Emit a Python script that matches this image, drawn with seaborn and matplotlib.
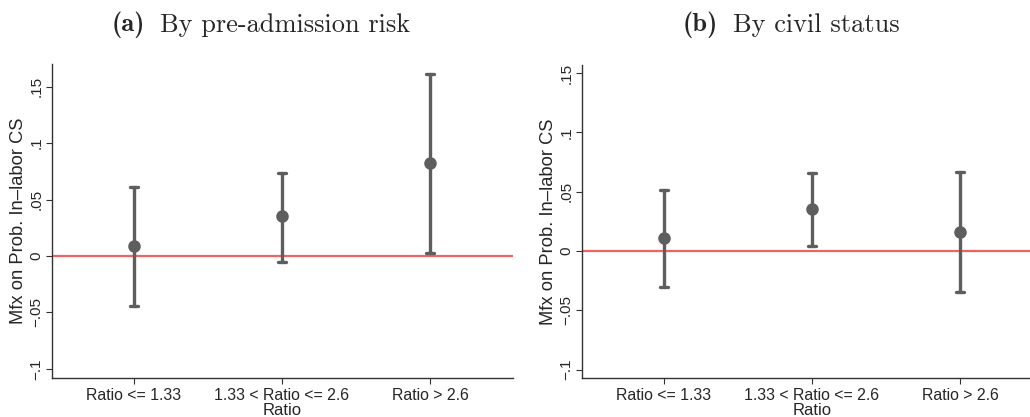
import numpy as np
import pandas as pd
import matplotlib
matplotlib.use("Agg")
import matplotlib.pyplot as plt
import seaborn as sns

categories = ["Ratio <= 1.33", "1.33 < Ratio <= 2.6", "Ratio > 2.6"]

risk_est = [0.009, 0.035, 0.082]
risk_lo = [-0.044, -0.005, 0.003]
risk_hi = [0.061, 0.074, 0.161]

civil_est = [0.011, 0.035, 0.016]
civil_lo = [-0.030, 0.004, -0.035]
civil_hi = [0.051, 0.066, 0.067]

yticks = [-0.1, -0.05, 0, 0.05, 0.1, 0.15]
yticklabels = ["\u2212.1", "\u2212.05", "0", ".05", ".1", ".15"]

title_tags = ["(a)", "(b)"]
title_texts = ["By pre-admission risk", "By civil status"]
ylabel = "Mfx on Prob. In\u2013labor CS"
xlabel = "Ratio"

sns.set_theme(style="white")
plt.rcParams["font.family"] = ["Liberation Sans", "DejaVu Sans"]

W, H = 1030, 417
fig = plt.figure(figsize=(W / 100, H / 100), dpi=100)

def make_df(lo, est, hi):
    rows = []
    for c, a, b, d in zip(categories, lo, est, hi):
        for v in (a, b, d):
            rows.append({"cat": c, "val": v})
    return pd.DataFrame(rows)

panels = [
    dict(df=make_df(risk_lo, risk_est, risk_hi), left=52, top=64, bottom=378, width=461,
         ylim=(-0.1082, 0.1702), tag_x=112, text_x=160),
    dict(df=make_df(civil_lo, civil_est, civil_hi), left=582, top=65, bottom=378, width=461,
         ylim=(-0.1071, 0.1568), tag_x=683, text_x=733),
]

gray = "#5e5e5e"
for i, p in enumerate(panels):
    ax = fig.add_axes([p["left"] / W, (H - p["bottom"]) / H, p["width"] / W,
                       (p["bottom"] - p["top"]) / H])
    ax.axhline(0, color="#f26262", lw=1.6, zorder=1)
    sns.pointplot(data=p["df"], x="cat", y="val", order=categories, estimator="median",
                  errorbar=("pi", 100), linestyle="none", markers="o", color=gray,
                  capsize=0.05, markersize=7, err_kws={"linewidth": 2.4},
                  ax=ax, zorder=3)
    ax.set_xlim(-0.554, 2.561)
    ax.set_ylim(*p["ylim"])
    ax.set_yticks(yticks)
    ax.set_yticklabels(yticklabels, rotation=90, va="center", fontsize=11)
    ax.tick_params(axis="y", length=4, width=0.8, color="#333333", pad=2, left=True)
    ax.tick_params(axis="x", length=4, width=0.8, color="#333333", pad=3, bottom=True,
                   labelsize=11.4)
    for s in ["top", "right"]:
        ax.spines[s].set_visible(False)
    for s in ["left", "bottom"]:
        ax.spines[s].set_color("#333333")
        ax.spines[s].set_linewidth(1.0)
    ax.set_xlabel(xlabel, fontsize=12, labelpad=0)
    ax.set_ylabel(ylabel, fontsize=13.2, labelpad=2)
    ax.grid(False)
    fig.text(p["tag_x"] / W, 1 - 25 / H, title_tags[i], ha="left", va="center",
             fontsize=19, family="cmb10")
    fig.text(p["text_x"] / W, 1 - 25 / H, title_texts[i], ha="left", va="center",
             fontsize=19, family="cmr10")

fig.savefig("out.png", dpi=100, facecolor="white")
